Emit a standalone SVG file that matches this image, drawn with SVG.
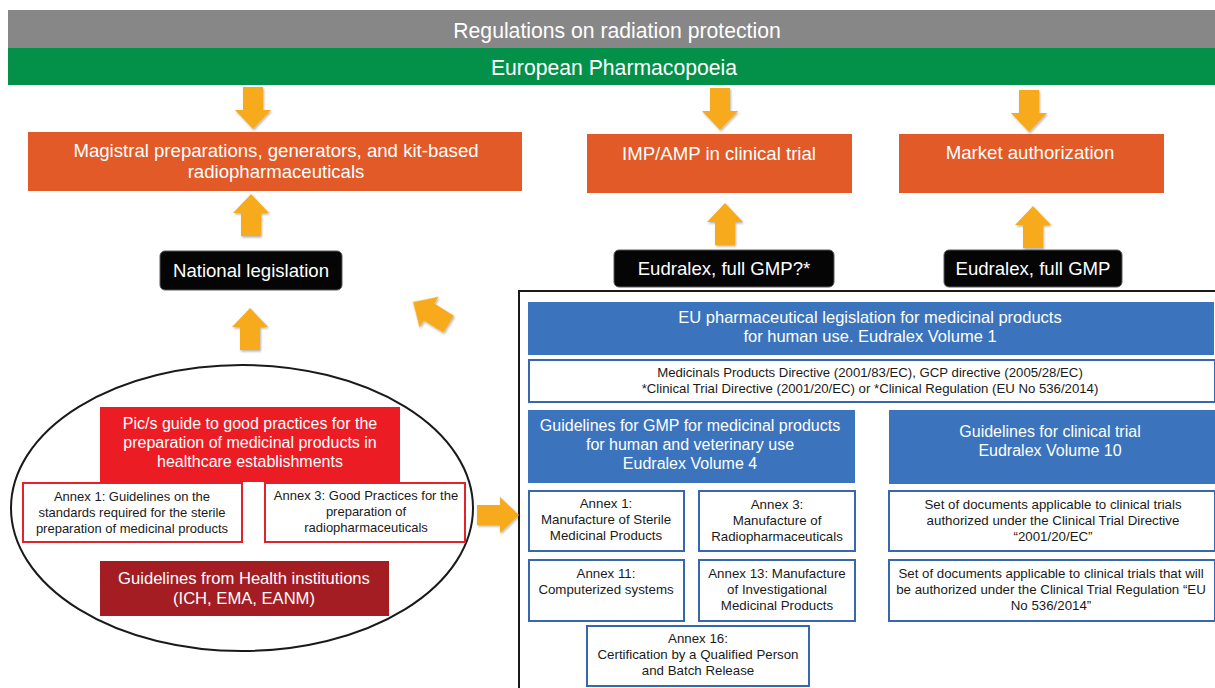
<svg xmlns="http://www.w3.org/2000/svg" width="1215" height="688" viewBox="0 0 1215 688">
  <style>
    .t { font-family: "Liberation Sans", Arial, sans-serif; text-anchor: middle; }
    .n { font-family: "Liberation Sans Narrow", "Liberation Sans", Arial, sans-serif; text-anchor: middle; }
    .w { fill: #ffffff; }
    .k { fill: #1a1a1a; }
    .orange { fill: #E15A27; }
    .blk { fill: #050505; stroke: #5a5a5a; stroke-width: 1; }
    .blue { fill: #3B74BC; }
    .bbox { fill: #ffffff; stroke: #3767AE; stroke-width: 2; }
    .rbox { fill: #ffffff; stroke: #E3232B; stroke-width: 2; }
    .arrow { fill: #F6AA1C; }
    .h { font-size: 18.6px; }
  </style>
  <defs>
    <filter id="sh" x="-30%" y="-30%" width="160%" height="160%">
      <feDropShadow dx="1" dy="1.5" stdDeviation="1.2" flood-color="#000" flood-opacity="0.3"/>
    </filter>
    <!-- block arrow pointing up, tip at origin -->
    <path id="arr" d="M0,0 L18,19 L10,19 L10,42 L-10,42 L-10,19 L-18,19 Z"/>
  </defs>

  <rect width="1215" height="688" fill="#ffffff"/>

  <g id="radiation-protection">
    <rect x="8" y="10" width="1207" height="38" fill="#878787"/>
    <text class="t w" x="617" y="38" font-size="21.2">Regulations on radiation protection</text>
  </g>
  <g id="pharmacopoeia">
    <rect x="8" y="48" width="1207" height="37" fill="#03914A"/>
    <text class="t w" x="614" y="75" font-size="21.2">European Pharmacopoeia</text>
  </g>

  <g id="magistral">
    <rect class="orange" x="28" y="132" width="494" height="59"/>
    <text class="t w h"><tspan x="276" y="157">Magistral preparations, generators, and kit-based</tspan><tspan x="276" y="178">radiopharmaceuticals</tspan></text>
  </g>
  <g id="imp-amp">
    <rect class="orange" x="587" y="134" width="265" height="59"/>
    <text class="t w h" x="719" y="160">IMP/AMP in clinical trial</text>
  </g>
  <g id="market">
    <rect class="orange" x="899" y="134" width="265" height="59"/>
    <text class="t w h" x="1030" y="159">Market authorization</text>
  </g>

  <g id="national">
    <rect class="blk" x="160" y="251" width="182" height="39" rx="5"/>
    <text class="t w h" x="251" y="277">National legislation</text>
  </g>
  <g id="eudralex-gmp-q">
    <rect class="blk" x="614" y="250" width="220" height="37" rx="5"/>
    <text class="t w h" x="724" y="275">Eudralex, full GMP?*</text>
  </g>
  <g id="eudralex-gmp">
    <rect class="blk" x="944" y="250" width="178" height="37" rx="5"/>
    <text class="t w h" x="1033" y="275">Eudralex, full GMP</text>
  </g>

  <!-- left: national / PIC/S scope -->
  <g id="pics-scope">
    <ellipse cx="242" cy="508" rx="231" ry="143" fill="none" stroke="#1a1a1a" stroke-width="2"/>
  </g>
  <g id="pics-guide">
    <rect x="100" y="407" width="300" height="75" fill="#EC1C24"/>
    <text class="t w" font-size="16"><tspan x="250" y="429">Pic/s guide to good practices for the</tspan><tspan x="250" y="448">preparation of medicinal products in</tspan><tspan x="250" y="467">healthcare establishments</tspan></text>
  </g>
  <g id="pics-annex1">
    <rect class="rbox" x="23" y="483" width="219" height="59"/>
    <text class="t k" font-size="13"><tspan x="132" y="501">Annex 1: Guidelines on the</tspan><tspan x="132" y="517">standards required for the sterile</tspan><tspan x="132" y="533">preparation of medicinal products</tspan></text>
  </g>
  <g id="pics-annex3">
    <rect class="rbox" x="265" y="483" width="200" height="59"/>
    <text class="t k" font-size="13"><tspan x="366" y="500">Annex 3: Good Practices for the</tspan><tspan x="366" y="516">preparation of</tspan><tspan x="366" y="532">radiopharmaceuticals</tspan></text>
  </g>
  <g id="health-institutions">
    <rect x="100" y="561" width="289" height="55" fill="#A31D23"/>
    <text class="t w" font-size="16.6"><tspan x="244" y="584">Guidelines from Health institutions</tspan><tspan x="244" y="604">(ICH, EMA, EANM)</tspan></text>
  </g>

  <!-- right: EU legislation frame -->
  <g id="eu-frame">
    <path d="M519,688 L519,291 L1215,291" fill="none" stroke="#1a1a1a" stroke-width="2"/>
  </g>
  <g id="eu-volume1">
    <rect class="blue" x="528" y="302" width="686" height="53"/>
    <text class="n w" font-size="16.5"><tspan x="870" y="323">EU pharmaceutical legislation for medicinal products</tspan><tspan x="870" y="342">for human use. Eudralex Volume 1</tspan></text>
  </g>
  <g id="directives">
    <rect class="bbox" x="529" y="360" width="686" height="42"/>
    <text class="n k" font-size="13.2"><tspan x="870" y="377">Medicinals Products Directive (2001/83/EC), GCP directive (2005/28/EC)</tspan><tspan x="870" y="393">*Clinical Trial Directive (2001/20/EC) or *Clinical Regulation (EU No 536/2014)</tspan></text>
  </g>
  <g id="gmp-volume4">
    <rect class="blue" x="528" y="410" width="327" height="73"/>
    <text class="n w" font-size="16"><tspan x="690" y="431">Guidelines for GMP for medicinal products</tspan><tspan x="690" y="450">for human and veterinary use</tspan><tspan x="690" y="469">Eudralex Volume 4</tspan></text>
  </g>
  <g id="ct-volume10">
    <rect class="blue" x="889" y="410" width="326" height="74"/>
    <text class="n w" font-size="16"><tspan x="1050" y="437">Guidelines for clinical trial</tspan><tspan x="1050" y="456">Eudralex Volume 10</tspan></text>
  </g>
  <g id="gmp-annex1">
    <rect class="bbox" x="529" y="491" width="155" height="60"/>
    <text class="n k" font-size="13.3"><tspan x="606" y="508">Annex 1:</tspan><tspan x="606" y="524">Manufacture of Sterile</tspan><tspan x="606" y="540">Medicinal Products</tspan></text>
  </g>
  <g id="gmp-annex3">
    <rect class="bbox" x="699" y="491" width="156" height="60"/>
    <text class="n k" font-size="13.3"><tspan x="777" y="509">Annex 3:</tspan><tspan x="777" y="525">Manufacture of</tspan><tspan x="777" y="541">Radiopharmaceuticals</tspan></text>
  </g>
  <g id="ct-directive">
    <rect class="bbox" x="889" y="491" width="326" height="60"/>
    <text class="n k" font-size="13.3"><tspan x="1053" y="509">Set of documents applicable to clinical trials</tspan><tspan x="1053" y="525">authorized under the Clinical Trial Directive</tspan><tspan x="1053" y="541">“2001/20/EC”</tspan></text>
  </g>
  <g id="gmp-annex11">
    <rect class="bbox" x="529" y="560" width="155" height="61"/>
    <text class="n k" font-size="13.3"><tspan x="606" y="578">Annex 11:</tspan><tspan x="606" y="594">Computerized systems</tspan></text>
  </g>
  <g id="gmp-annex13">
    <rect class="bbox" x="699" y="560" width="156" height="61"/>
    <text class="n k" font-size="13.3"><tspan x="777" y="578">Annex 13: Manufacture</tspan><tspan x="777" y="594">of Investigational</tspan><tspan x="777" y="610">Medicinal Products</tspan></text>
  </g>
  <g id="ct-regulation">
    <rect class="bbox" x="889" y="560" width="326" height="61"/>
    <text class="n k" font-size="13.3"><tspan x="1051" y="578">Set of documents applicable to clinical trials that will</tspan><tspan x="1051" y="594">be authorized under the Clinical Trial Regulation “EU</tspan><tspan x="1051" y="610">No 536/2014”</tspan></text>
  </g>
  <g id="gmp-annex16">
    <rect class="bbox" x="587" y="626" width="222" height="60"/>
    <text class="n k" font-size="13.3"><tspan x="698" y="643">Annex 16:</tspan><tspan x="698" y="659">Certification by a Qualified Person</tspan><tspan x="698" y="675">and Batch Release</tspan></text>
  </g>

  <!-- block arrows -->
  <g id="connectors" class="arrow" filter="url(#sh)">
    <use href="#arr" transform="translate(253,129) rotate(180)"/>
    <use href="#arr" transform="translate(720,130) rotate(180)"/>
    <use href="#arr" transform="translate(1029,132) rotate(180)"/>
    <use href="#arr" transform="translate(251,194)"/>
    <use href="#arr" transform="translate(725,203)"/>
    <use href="#arr" transform="translate(1033,206)"/>
    <use href="#arr" transform="translate(250,308)"/>
    <use href="#arr" transform="translate(413,302) rotate(-58)"/>
    <use href="#arr" transform="translate(519,515) rotate(90)"/>
  </g>
</svg>
